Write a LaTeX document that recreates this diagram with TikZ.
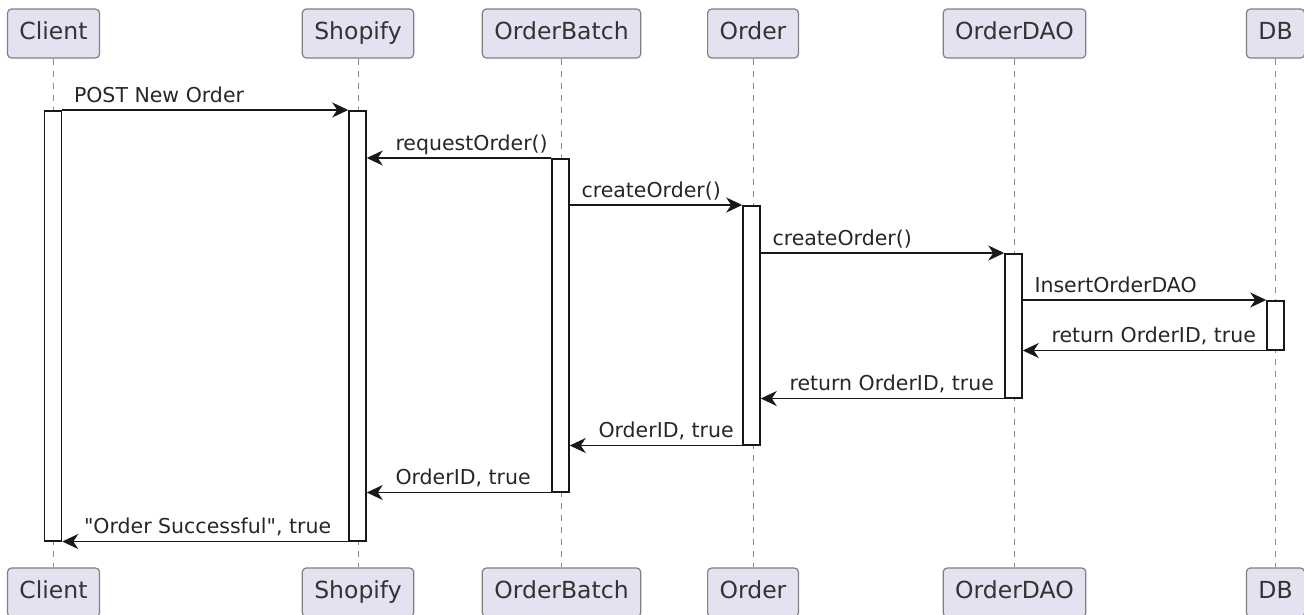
\documentclass[tikz,border=0pt]{standalone}
\usepackage{fontspec}
\setmainfont{DejaVu Sans}[Ligatures=TeXOff]
\usetikzlibrary{arrows.meta}
\definecolor{partfill}{HTML}{E2E2F0}
\definecolor{ink}{HTML}{181818}

\begin{document}
\begin{tikzpicture}[x=1pt, y=-1pt,
    part/.style={draw=black!50, line width=1.2pt, fill=partfill, rounded corners=4pt,
      minimum height=49pt, inner xsep=12pt, text height=17pt, text depth=5pt,
      text=black!80, font=\fontsize{23.5}{28}\selectfont},
    life/.style={draw=black!45, line width=1pt, dash pattern=on 6pt off 6pt},
    bar/.style={draw=ink, line width=1.5pt, fill=white, minimum width=17pt, inner sep=0pt, anchor=north},
    msg/.style={draw=ink, line width=1.5pt, -{Stealth[length=16pt,width=15pt,inset=5pt]}},
    lbl/.style={text=black!85, inner sep=0pt, font=\fontsize{20.5}{24}\selectfont},
    lr/.style={lbl, pos=0, anchor=base west, xshift=11pt, yshift=8pt},
    rl/.style={lbl, pos=1, anchor=base west, xshift=28pt, yshift=8pt}]
    \useasboundingbox (0,0) rectangle (1304,614);
    % participants, top and bottom
    \node[part] (client) at (53.5, 33.5) {Client};
    \node[part] (shop) at (358, 33.5) {Shopify};
    \node[part] (batch) at (561.5, 33.5) {OrderBatch};
    \node[part] (order) at (753, 33.5) {Order};
    \node[part] (dao) at (1014.5, 33.5) {OrderDAO};
    \node[part] (db) at (1275.5, 33.5) {DB};
    \node[part] (client2) at (53.5, 592.5) {Client};
    \node[part] (shop2) at (358, 592.5) {Shopify};
    \node[part] (batch2) at (561.5, 592.5) {OrderBatch};
    \node[part] (order2) at (753, 592.5) {Order};
    \node[part] (dao2) at (1014.5, 592.5) {OrderDAO};
    \node[part] (db2) at (1275.5, 592.5) {DB};
    \draw[life] (client) -- (client2);
    \draw[life] (shop) -- (shop2);
    \draw[life] (batch) -- (batch2);
    \draw[life] (order) -- (order2);
    \draw[life] (dao) -- (dao2);
    \draw[life] (db) -- (db2);
    % activations
    \node[bar, minimum height=430pt] (clientbar) at (53, 110) {};
    \node[bar, minimum height=430pt] (shopbar) at (357.5, 110) {};
    \node[bar, minimum height=333pt] (batchbar) at (560.5, 158) {};
    \node[bar, minimum height=239pt] (orderbar) at (751.5, 205) {};
    \node[bar, minimum height=144pt] (daobar) at (1013.5, 253) {};
    \node[bar, minimum height=49pt] (dbbar) at (1275.5, 300) {};
    % messages
    \draw[msg] (clientbar.north east) to node[lr] {POST New Order} (shopbar.north west);
    \draw[msg] (batchbar.north west) to node[rl] {requestOrder()} (shopbar.east |- batchbar.north);
    \draw[msg] (batchbar.east |- orderbar.north) to node[lr] {createOrder()} (orderbar.north west);
    \draw[msg] (orderbar.east |- daobar.north) to node[lr] {createOrder()} (daobar.north west);
    \draw[msg] (daobar.east |- dbbar.north) to node[lr] {InsertOrderDAO} (dbbar.north west);
    \draw[msg] (dbbar.south west) to node[rl] {return OrderID, true} (daobar.east |- dbbar.south);
    \draw[msg] (daobar.south west) to node[rl] {return OrderID, true} (orderbar.east |- daobar.south);
    \draw[msg] (orderbar.south west) to node[rl] {OrderID, true} (batchbar.east |- orderbar.south);
    \draw[msg] (batchbar.south west) to node[rl] {OrderID, true} (shopbar.east |- batchbar.south);
    \draw[msg] (shopbar.south west) to node[rl, xshift=-7pt] {"Order Successful", true} (clientbar.south east);
\end{tikzpicture}
\end{document}
